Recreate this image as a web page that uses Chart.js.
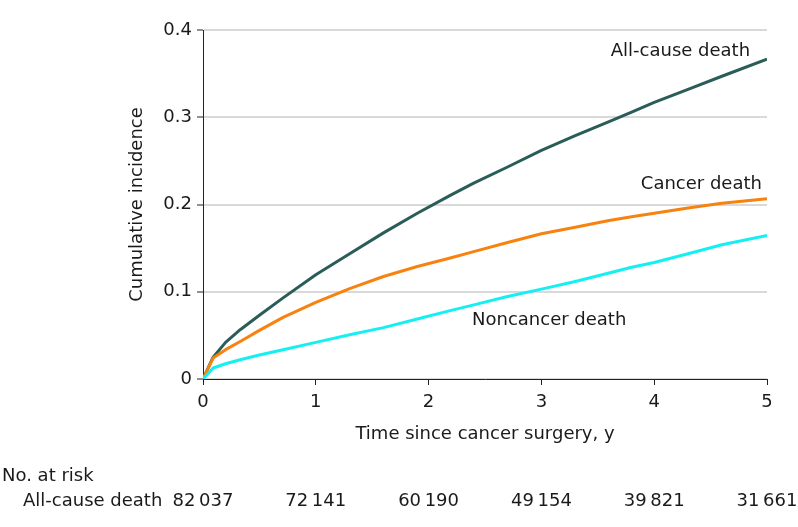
<!DOCTYPE html>
<html>
<head>
<meta charset="utf-8">
<script src="https://cdn.jsdelivr.net/npm/chart.js@4.4.1/dist/chart.umd.min.js"></script>
<style>
  html, body { margin: 0; padding: 0; background: #ffffff; }
  #wrap { width: 798px; height: 527px; position: relative; }
</style>
</head>
<body>
<div id="wrap"><canvas id="c" width="798" height="527"></canvas></div>
<script>
// ---- Data ----
const timeYears = [0, 0.09, 0.2, 0.33, 0.5, 0.71, 1.0, 1.3, 1.6, 1.9, 2.2, 2.4, 2.7, 3.0, 3.3, 3.6, 3.8, 4.0, 4.3, 4.6, 5.0];
const allCauseDeath = [0, 0.025, 0.042, 0.0565, 0.073, 0.093, 0.1195, 0.1435, 0.1675, 0.190, 0.211, 0.2245, 0.243, 0.262, 0.279, 0.295, 0.306, 0.317, 0.332, 0.347, 0.3666];
const cancerDeath = [0, 0.024, 0.0336, 0.043, 0.0557, 0.0706, 0.0877, 0.1035, 0.1175, 0.129, 0.139, 0.146, 0.1565, 0.1664, 0.174, 0.1817, 0.186, 0.190, 0.196, 0.2015, 0.2065];
const noncancerDeath = [0, 0.0126, 0.0175, 0.022, 0.0275, 0.0336, 0.042, 0.0507, 0.0589, 0.0687, 0.0786, 0.085, 0.0946, 0.103, 0.1118, 0.1215, 0.128, 0.1336, 0.1435, 0.1538, 0.1645];

const xTicks = [0, 1, 2, 3, 4, 5];
const yTicks = [0, 0.1, 0.2, 0.3, 0.4];
const atRiskLabel = 'All-cause death';
const atRiskTimes = [0, 1, 2, 3, 4, 5];
const atRiskCounts = ['82\u2009037', '72\u2009141', '60\u2009190', '49\u2009154', '39\u2009821', '31\u2009661'];

const seriesNames = ['All-cause death', 'Cancer death', 'Noncancer death'];
// curve label anchors in data units (t, value)
const labelAnchors = [
  { text: 'All-cause death', t: 4.85, v: 0.375, align: 'right' },
  { text: 'Cancer death', t: 4.955, v: 0.223, align: 'right' },
  { text: 'Noncancer death', t: 2.385, v: 0.0668, align: 'left' }
];

// ---- Styling ----
const FONT = '"DejaVu Sans", "Liberation Sans", sans-serif';
const FS = 18;
const TEXT = '#1a1a1a';
const colors = ['#2b5d58', '#f8820f', '#14f0f2'];

function toXY(xs, ys) { return xs.map((x, i) => ({ x: x, y: ys[i] })); }

const textPlugin = {
  id: 'textPlugin',
  afterDraw(chart) {
    const ctx = chart.ctx;
    const xs = chart.scales.x, ys = chart.scales.y;
    ctx.save();
    ctx.fillStyle = TEXT;
    ctx.font = FS + 'px ' + FONT;
    ctx.textBaseline = 'middle';
    labelAnchors.forEach(a => {
      ctx.textAlign = a.align;
      ctx.fillText(a.text, xs.getPixelForValue(a.t), ys.getPixelForValue(a.v));
    });
    // number at risk table
    ctx.textBaseline = 'alphabetic';
    ctx.textAlign = 'left';
    ctx.fillText('No. at risk', 2, 481);
    ctx.fillText(atRiskLabel, 23, 506);
    ctx.textAlign = 'center';
    atRiskTimes.forEach((t, i) => {
      ctx.fillText(atRiskCounts[i], xs.getPixelForValue(t), 506);
    });
    ctx.restore();
  }
};

new Chart(document.getElementById('c'), {
  type: 'line',
  data: {
    datasets: [
      { label: seriesNames[2], data: toXY(timeYears, noncancerDeath), borderColor: colors[2] },
      { label: seriesNames[1], data: toXY(timeYears, cancerDeath), borderColor: colors[1] },
      { label: seriesNames[0], data: toXY(timeYears, allCauseDeath), borderColor: colors[0] }
    ]
  },
  options: {
    responsive: false,
    animation: false,
    devicePixelRatio: 1,
    layout: { padding: { top: 30, right: 31, left: 0, bottom: 0 } },
    elements: {
      point: { radius: 0 },
      line: { borderWidth: 3, tension: 0, fill: false, borderJoinStyle: 'round' }
    },
    plugins: { legend: { display: false }, tooltip: { enabled: false } },
    scales: {
      x: {
        type: 'linear', min: 0, max: 5,
        afterFit(s) { s.height = 148; },
        afterBuildTicks(s) { s.ticks = xTicks.map(v => ({ value: v })); },
        ticks: { color: TEXT, font: { family: FONT, size: FS }, padding: 7, maxRotation: 0,
                 callback: v => String(v) },
        grid: { drawOnChartArea: false, drawTicks: true, tickLength: 6, tickColor: '#222', tickWidth: 1 },
        border: { display: true, color: '#222', width: 1 },
        title: { display: true, text: 'Time since cancer surgery, y', color: TEXT,
                 font: { family: FONT, size: FS }, padding: { top: 0, bottom: 82 } }
      },
      y: {
        type: 'linear', min: 0, max: 0.4,
        afterFit(s) { s.width = 203; },
        afterBuildTicks(s) { s.ticks = yTicks.map(v => ({ value: v })); },
        ticks: { color: TEXT, font: { family: FONT, size: FS }, padding: 5,
                 callback: v => v === 0 ? '0' : v.toFixed(1) },
        grid: { color: '#d9d9d9', lineWidth: 2, drawTicks: true, tickLength: 6, tickColor: '#222', tickWidth: 1 },
        border: { display: true, color: '#222', width: 1 },
        title: { display: true, text: 'Cumulative incidence', color: TEXT,
                 font: { family: FONT, size: FS }, padding: { top: 127, bottom: 0 } }
      }
    }
  },
  plugins: [textPlugin]
});
</script>
</body>
</html>
